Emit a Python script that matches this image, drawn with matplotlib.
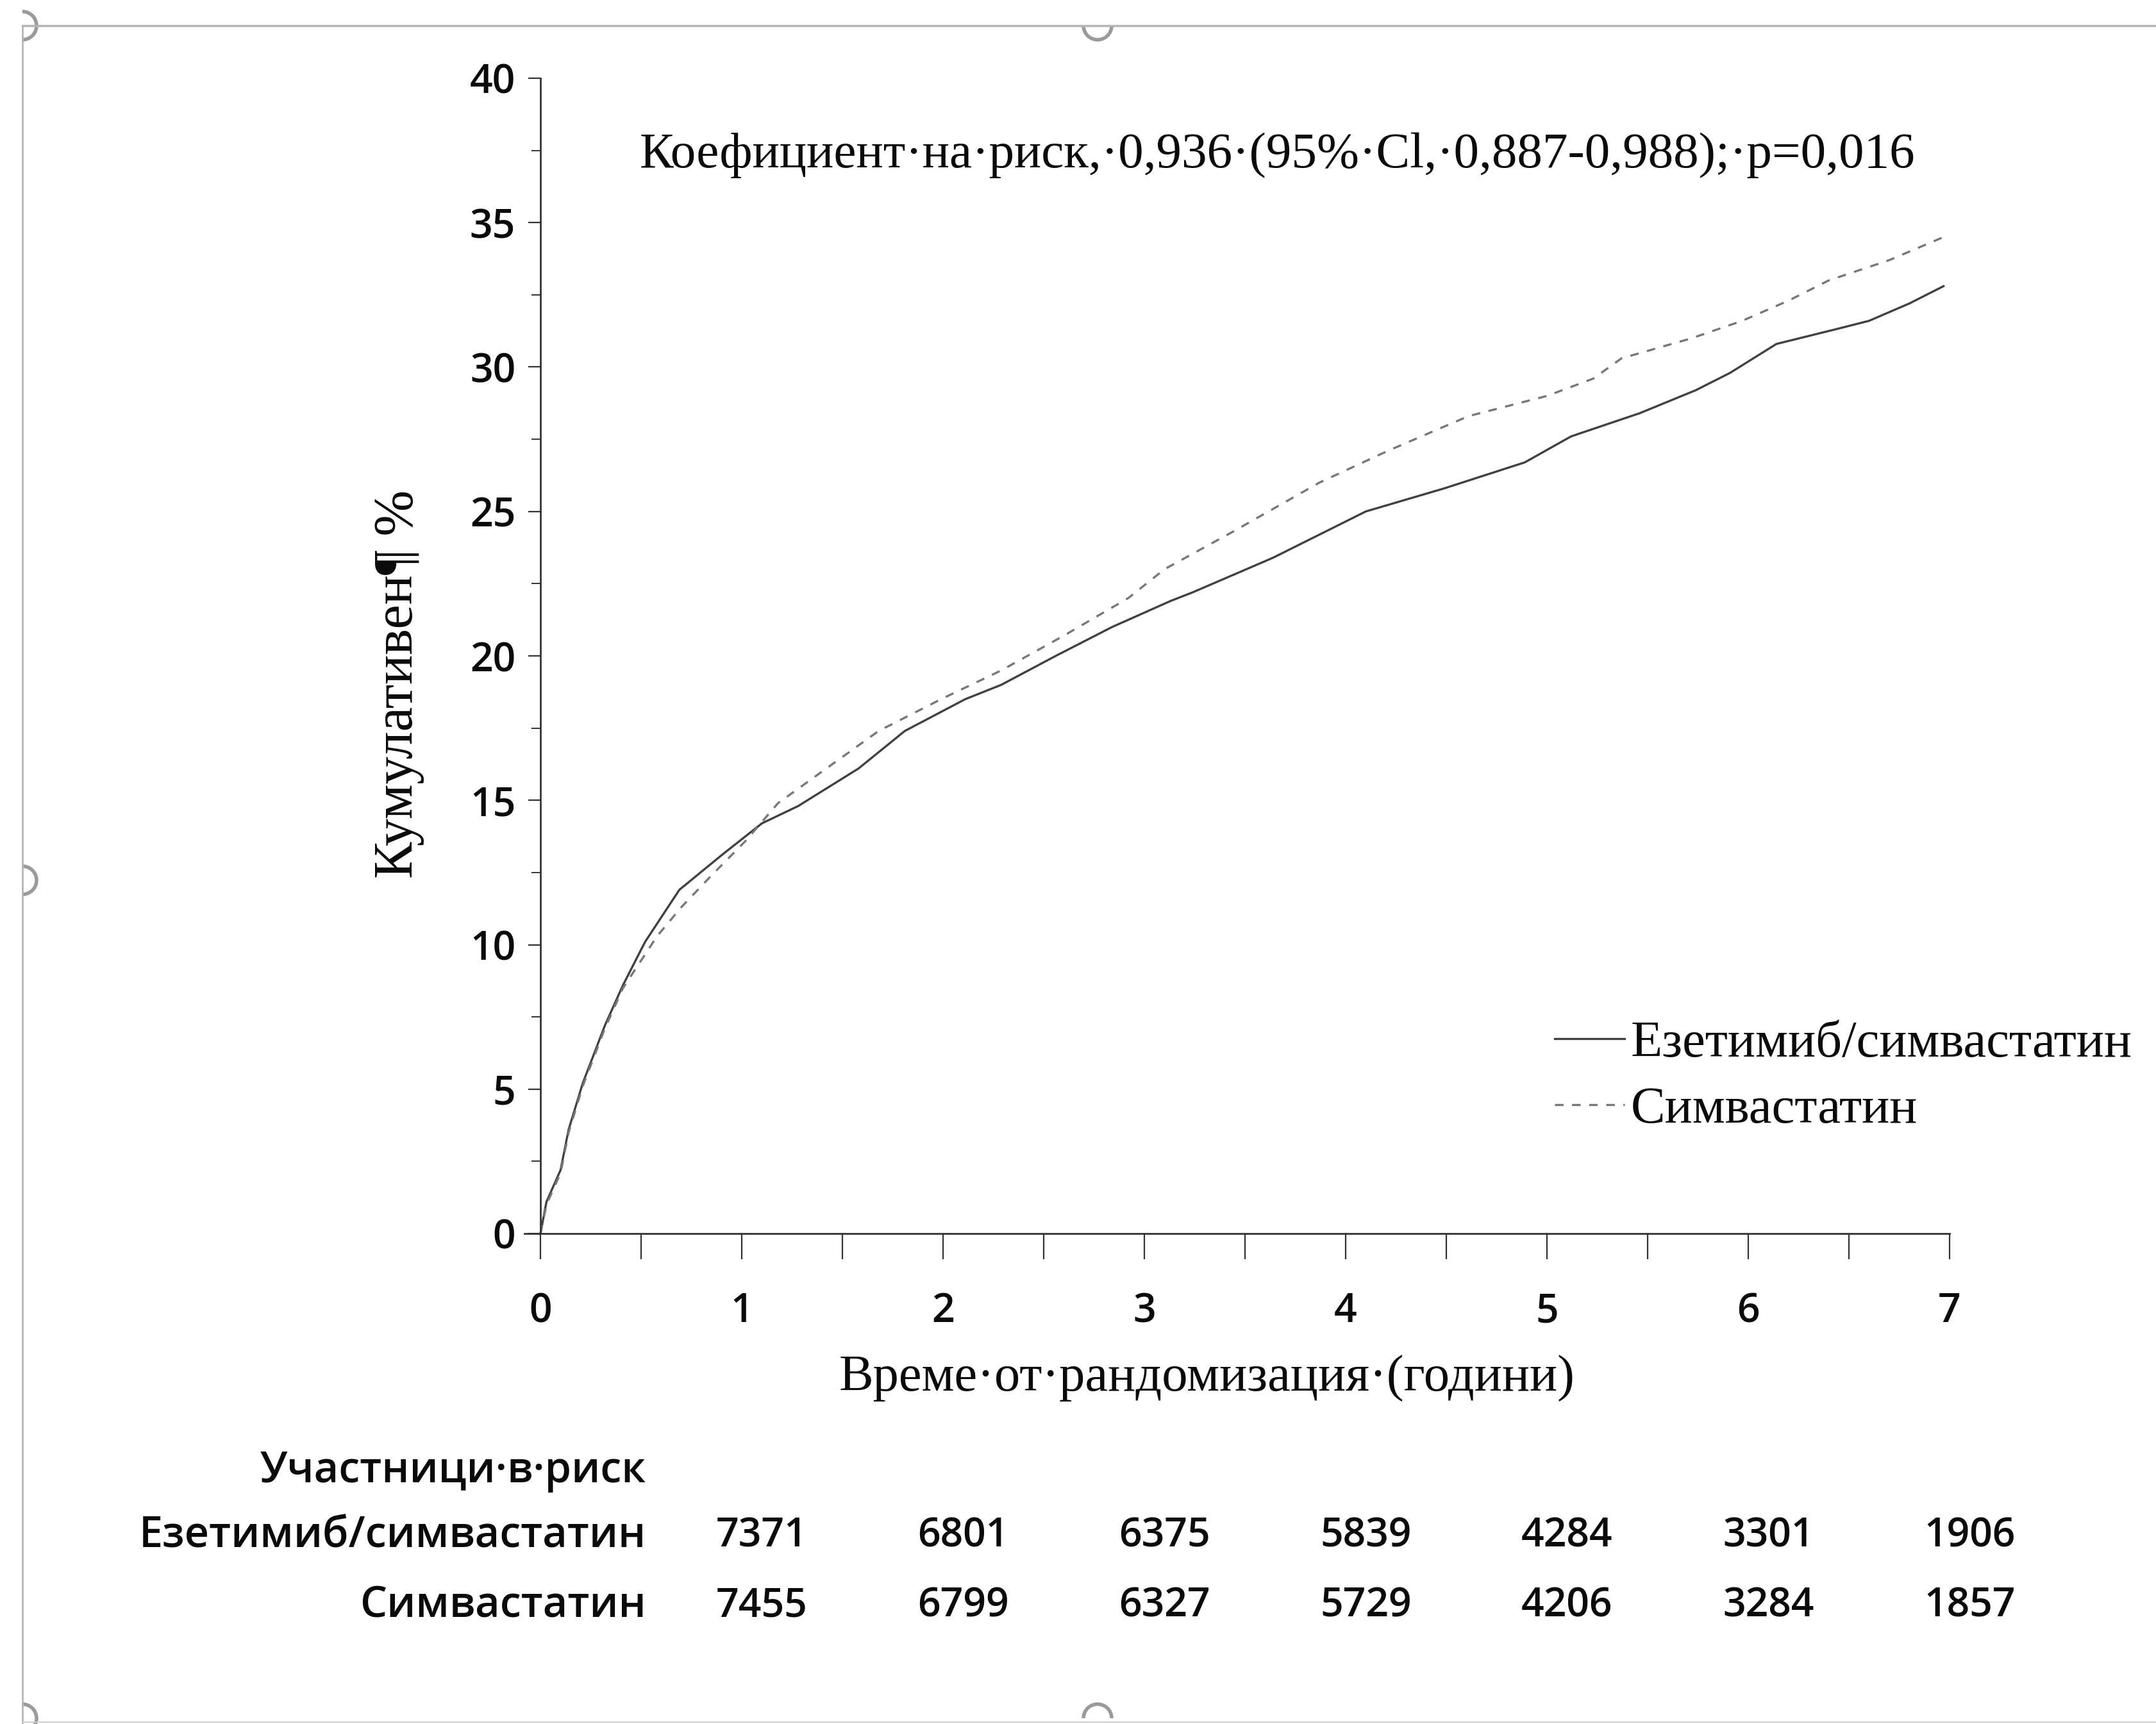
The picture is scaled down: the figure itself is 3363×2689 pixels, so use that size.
import matplotlib
matplotlib.use("Agg")
import matplotlib.pyplot as plt
from matplotlib.lines import Line2D
from matplotlib.patches import Arc

# ---------------- data ----------------
t_eze = [0, 0.03, 0.10, 0.14, 0.21, 0.32, 0.41, 0.52, 0.69, 0.90, 1.10, 1.28, 1.58,
         1.81, 2.11, 2.29, 2.56, 2.84, 3.13, 3.24, 3.64, 4.10, 4.49, 4.89, 5.12,
         5.46, 5.74, 5.91, 6.14, 6.43, 6.60, 6.80, 6.97]
y_eze = [0, 1.1, 2.2, 3.6, 5.2, 7.2, 8.6, 10.1, 11.9, 13.1, 14.2, 14.8, 16.1,
         17.4, 18.5, 19.0, 20.0, 21.0, 21.9, 22.2, 23.4, 25.0, 25.8, 26.7, 27.6,
         28.4, 29.2, 29.8, 30.8, 31.3, 31.6, 32.2, 32.8]

t_sim = [0, 0.03, 0.10, 0.14, 0.21, 0.32, 0.41, 0.58, 0.70, 0.85, 1.02, 1.18, 1.38,
         1.68, 1.99, 2.29, 2.60, 2.92, 3.10, 3.44, 3.87, 4.21, 4.61, 5.00, 5.23,
         5.37, 5.72, 5.97, 6.20, 6.40, 6.70, 6.97]
y_sim = [0, 1.0, 2.1, 3.5, 5.1, 7.1, 8.5, 10.3, 11.3, 12.4, 13.6, 14.9, 15.9,
         17.4, 18.5, 19.5, 20.7, 22.0, 23.0, 24.3, 26.0, 27.1, 28.3, 29.0, 29.6,
         30.3, 31.0, 31.6, 32.3, 33.0, 33.7, 34.5]

series_labels = ["Езетимиб/симвастатин", "Симвастатин"]
x_ticks = [0, 1, 2, 3, 4, 5, 6, 7]
y_ticks = [0, 5, 10, 15, 20, 25, 30, 35, 40]

risk_title = "Участници·в·риск"
risk_rows = ["Езетимиб/симвастатин", "Симвастатин"]
risk_eze = [7371, 6801, 6375, 5839, 4284, 3301, 1906]
risk_sim = [7455, 6799, 6327, 5729, 4206, 3284, 1857]

hr_text = "Коефициент·на·риск,·0,936·(95%·Cl,·0,887-0,988);·p=0,016"
x_label = "Време·от·рандомизация·(години)"
y_label = "Кумулативен¶ %"

# ---------------- figure ----------------
W, H = 3363, 2689
fig = plt.figure(figsize=(W / 100, H / 100), dpi=100)
fig.patch.set_facecolor("white")

def fx(px):
    return px / W

def fy(py):
    return 1 - py / H

serif = ["Liberation Serif", "DejaVu Serif"]
sans = ["Open Sans", "DejaVu Sans"]
txt_col = "#0a0a0a"
sans_w = "semibold"

x_lo = -0.08
px_per_year = (3041 - 843) / 7.0
ax_left = 843 + x_lo * px_per_year
ax = fig.add_axes([fx(ax_left), fy(1924), fx(3041 - ax_left), (1924 - 122) / H])
ax.set_xlim(x_lo, 7)
ax.set_ylim(0, 40)

for s in ["top", "right"]:
    ax.spines[s].set_visible(False)
ax.spines["left"].set_position(("data", 0))
for s in ["left", "bottom"]:
    ax.spines[s].set_color("#333333")
    ax.spines[s].set_linewidth(2.0)

ax.set_xticks(x_ticks)
ax.set_xticks([i + 0.5 for i in range(7)], minor=True)
ax.set_yticks(y_ticks)
ax.set_yticks([i * 5 + 2.5 for i in range(8)], minor=True)
ax.tick_params(axis="x", which="both", direction="out", length=29, width=1.6,
               color="#333333", pad=36)
ax.tick_params(axis="y", which="major", direction="out", length=14, width=1.6,
               color="#333333", pad=14)
ax.tick_params(axis="y", which="minor", direction="out", length=10, width=1.4,
               color="#333333")
for lab in ax.get_xticklabels() + ax.get_yticklabels():
    lab.set_fontfamily(sans)
    lab.set_fontsize(45)
    lab.set_fontweight(sans_w)
    lab.set_color(txt_col)

l1, = ax.plot(t_eze, y_eze, color="#404040", lw=2.4, solid_joinstyle="round",
              label=series_labels[0], clip_on=False)
l2, = ax.plot(t_sim, y_sim, color="#777777", lw=2.4, dashes=(4, 4),
              label=series_labels[1], clip_on=False)

leg = ax.legend(handles=[l1, l2], loc="upper left",
                bbox_to_anchor=(fx(2425), fy(1592)), bbox_transform=fig.transFigure,
                frameon=False, borderaxespad=0, borderpad=0, handlelength=1.35,
                handletextpad=0.12, labelspacing=0.36,
                prop={"family": serif, "size": 58})
for t in leg.get_texts():
    t.set_color(txt_col)

# Hazard ratio text
fig.text(fx(1993), fy(242), hr_text, ha="center", va="center",
         family=serif, fontsize=57, color=txt_col)

# axis labels
fig.text(fx(1883), fy(2150), x_label, ha="center", va="center",
         family=serif, fontsize=58, color=txt_col)
fig.text(fx(622), fy(1067), y_label, ha="center", va="center", rotation=90,
         family=serif, fontsize=62, color=txt_col)

# Numbers at risk
fig.text(fx(1008), fy(2295), risk_title, ha="right", va="center",
         family=sans, fontsize=48, weight=sans_w, color=txt_col)
row_y = [2396, 2505]
for name, vals, ry in zip(risk_rows, [risk_eze, risk_sim], row_y):
    fig.text(fx(1008), fy(ry), name, ha="right", va="center",
             family=sans, fontsize=48, weight=sans_w, color=txt_col)
    for i, v in enumerate(vals):
        xpos = ax.transData.transform((1.1 + i, 0))[0]
        fig.text(xpos / W, fy(ry), str(v), ha="center", va="center",
                 family=sans, fontsize=45, weight=sans_w, color=txt_col)

# frame of the embedded picture (selection border)
frame_col = "#b5b5b5"
fig.add_artist(Line2D([fx(35), fx(3363)], [fy(40), fy(40)], color=frame_col,
                      lw=2.5, transform=fig.transFigure))
fig.add_artist(Line2D([fx(35), fx(35)], [fy(40), fy(2689)], color=frame_col,
                      lw=2.0, transform=fig.transFigure))
fig.add_artist(Line2D([fx(35), fx(3363)], [fy(2686), fy(2686)], color="#d0d0d0",
                      lw=1.5, transform=fig.transFigure))

def handle(cx, cy, t1, t2, r=22):
    a = Arc((fx(cx), fy(cy)), 2 * r / W, 2 * r / H, theta1=t1, theta2=t2,
            color="#9a9a9a", lw=4, transform=fig.transFigure)
    fig.add_artist(a)

handle(35, 40, 270, 90)
handle(1712, 40, 180, 360)
handle(35, 1373, 270, 90)
handle(35, 2680, 270, 90)
handle(1712, 2680, 0, 180)

fig.savefig("out.png", dpi=100, facecolor="white")
